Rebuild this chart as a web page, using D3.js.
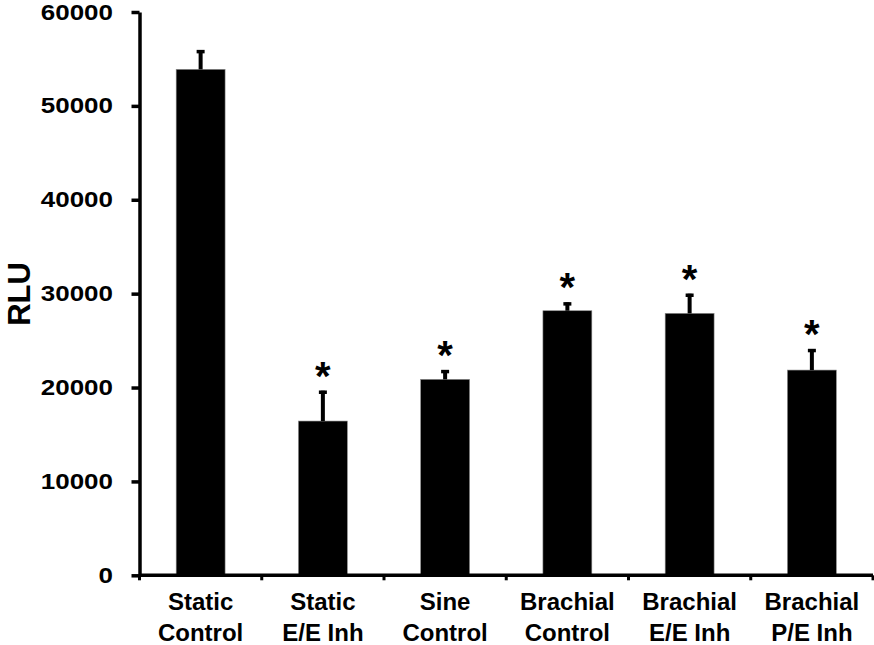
<!DOCTYPE html>
<html>
<head>
<meta charset="utf-8">
<script src="https://cdn.jsdelivr.net/npm/d3@7"></script>
<style>
  body { margin: 0; background: #fff; }
  svg text { font-family: Arial, "Liberation Sans", sans-serif; font-weight: bold; }
</style>
</head>
<body>
<div id="vis"></div>
<script>
var categories = [["Static", "Control"], ["Static", "E/E Inh"], ["Sine", "Control"],
                  ["Brachial", "Control"], ["Brachial", "E/E Inh"], ["Brachial", "P/E Inh"]];
var means = [53890, 16430, 20870, 28180, 27900, 21860];
var errors = [2050, 3230, 990, 890, 2090, 2240];
var significant = [false, true, true, true, true, true];
var yTicks = [0, 10000, 20000, 30000, 40000, 50000, 60000];

var width = 874;
var height = 645;
var plotLeft = 139.5, plotRight = 873, plotTop = 12, plotBottom = 575.3;

var svg = d3.select('#vis').append('svg')
    .attr('width', width)
    .attr('height', height);

var x = d3.scaleBand()
    .domain(d3.range(categories.length))
    .range([plotLeft, plotRight])
    .paddingInner(0.6)
    .paddingOuter(0.3);

var y = d3.scaleLinear()
    .domain([0, 60000])
    .range([plotBottom, plotTop]);

// bars
svg.selectAll('rect.bar')
    .data(means)
    .enter()
    .append('rect')
    .attr('class', 'bar')
    .attr('x', function(d, i) { return x(i); })
    .attr('width', x.bandwidth())
    .attr('y', function(d) { return y(d); })
    .attr('height', function(d) { return plotBottom - y(d); })
    .attr('fill', '#000')
    .attr('stroke', '#888')
    .attr('stroke-width', 0.6);

// error bars + significance stars
for (var i = 0; i < means.length; i++) {
    var cx = x(i) + x.bandwidth() / 2;
    var yTop = y(means[i] + errors[i]);
    svg.append('line')
        .attr('x1', cx).attr('x2', cx)
        .attr('y1', y(means[i])).attr('y2', yTop)
        .attr('stroke', '#000')
        .attr('stroke-width', 4);
    svg.append('line')
        .attr('x1', cx - 4).attr('x2', cx + 4)
        .attr('y1', yTop + 1.5).attr('y2', yTop + 1.5)
        .attr('stroke', '#000')
        .attr('stroke-width', 3.5);
    if (significant[i]) {
        svg.append('text')
            .attr('x', cx)
            .attr('y', yTop - 1)
            .attr('text-anchor', 'middle')
            .style('font-size', '40px')
            .text('*');
    }
}

// y axis
var yAxis = svg.append('g')
    .attr('transform', 'translate(' + plotLeft + ',0)')
    .call(d3.axisLeft(y).tickValues(yTicks).tickFormat(d3.format('d'))
        .tickSize(8).tickPadding(14.5).tickSizeOuter(0));
yAxis.select('.domain').attr('stroke-width', 3.5);
yAxis.selectAll('.tick line').attr('stroke-width', 3.5);
yAxis.selectAll('.tick text')
    .style('font-size', '22px')
    .attr('transform', 'scale(1.18,1)')
    .attr('fill', '#000');

// x axis
var xAxis = svg.append('g')
    .attr('transform', 'translate(0,' + plotBottom + ')')
    .call(d3.axisBottom(x).tickSize(0).tickFormat(''));
xAxis.select('.domain').attr('stroke-width', 3.5).attr('d', 'M' + plotLeft + ',0H' + plotRight);

// boundary ticks between categories
var bounds = d3.range(categories.length + 1).map(function(i) { return plotLeft + i * x.step(); });
svg.selectAll('line.sep')
    .data(bounds)
    .enter()
    .append('line')
    .attr('class', 'sep')
    .attr('x1', function(d) { return d; })
    .attr('x2', function(d) { return d; })
    .attr('y1', plotBottom)
    .attr('y2', plotBottom + 5)
    .attr('stroke', '#000')
    .attr('stroke-width', 3);

// category labels
categories.forEach(function(c, i) {
    var cxl = x(i) + x.bandwidth() / 2;
    var t = svg.append('text')
        .attr('text-anchor', 'middle')
        .style('font-size', '24px');
    t.append('tspan').attr('x', cxl).attr('y', 610).text(c[0]);
    t.append('tspan').attr('x', cxl).attr('y', 641).text(c[1]);
});

// y label
svg.append('text')
    .attr('transform', 'translate(30,294) rotate(-90)')
    .attr('text-anchor', 'middle')
    .style('font-size', '31px')
    .text('RLU');
</script>
</body>
</html>
